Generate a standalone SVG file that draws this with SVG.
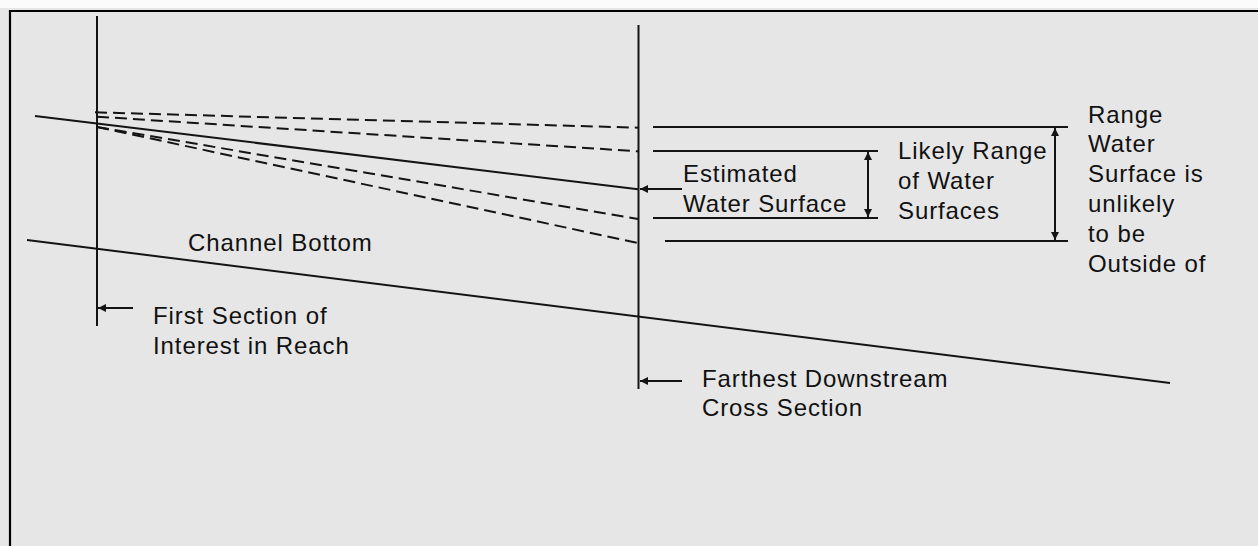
<svg xmlns="http://www.w3.org/2000/svg" width="1258" height="546" viewBox="0 0 1258 546">
<style>
.ln{stroke:#141414;stroke-width:2;fill:none}
.ds{stroke:#141414;stroke-width:2;fill:none;stroke-dasharray:12 6}
.t{font-family:"Liberation Sans",Arial,sans-serif;font-size:24px;letter-spacing:0.9px;fill:#111}
</style>
<defs>
<marker id="ah" viewBox="0 0 10 10" refX="10" refY="5" markerWidth="9" markerHeight="8" markerUnits="userSpaceOnUse" orient="auto-start-reverse">
<path d="M0,0 L10,5 L0,10 z" fill="#141414"/>
</marker>
</defs>
<rect x="0" y="0" width="1258" height="546" fill="#e6e6e6"/>
<rect x="0" y="0" width="1258" height="8" fill="#fbfbfb"/>
<path d="M10,546 V11 H1258" stroke="#000" stroke-width="2.2" fill="none"/>
<g id="sections">
<line class="ln" x1="97" y1="16" x2="97" y2="326"/>
<line class="ln" x1="638.5" y1="25" x2="638.5" y2="389"/>
</g>
<g id="channel-bottom">
<line class="ln" x1="27" y1="240" x2="1170" y2="383"/>
<text class="t" x="188" y="251">Channel Bottom</text>
</g>
<g id="water-surfaces">
<line class="ds" x1="95" y1="112.3" x2="638" y2="127.7"/>
<line class="ds" x1="97" y1="116.7" x2="638" y2="151.3"/>
<line class="ln" x1="35" y1="116" x2="638" y2="189.3"/>
<line class="ds" x1="97" y1="127" x2="638" y2="219"/>
<line class="ds" x1="97" y1="127" x2="638" y2="243"/>
</g>
<g id="range-lines">
<line class="ln" x1="653" y1="127" x2="1068" y2="127"/>
<line class="ln" x1="653" y1="151" x2="878" y2="151"/>
<line class="ln" x1="653" y1="218" x2="878" y2="218"/>
<line class="ln" x1="665" y1="241" x2="1068" y2="241"/>
</g>
<g id="connectors">
<line class="ln" x1="682" y1="189" x2="640" y2="189" marker-end="url(#ah)"/>
<line class="ln" x1="868" y1="152" x2="868" y2="217" marker-start="url(#ah)" marker-end="url(#ah)"/>
<line class="ln" x1="1055" y1="128" x2="1055" y2="240" marker-start="url(#ah)" marker-end="url(#ah)"/>
<line class="ln" x1="133" y1="308" x2="98" y2="308" marker-end="url(#ah)"/>
<line class="ln" x1="682" y1="381" x2="640" y2="381" marker-end="url(#ah)"/>
</g>
<g id="estimated-label">
<text class="t" x="683" y="182">Estimated</text>
<text class="t" x="683" y="211.5">Water Surface</text>
</g>
<g id="likely-label">
<text class="t" x="898" y="159.3">Likely Range</text>
<text class="t" x="898" y="189">of Water</text>
<text class="t" x="898" y="218.5">Surfaces</text>
</g>
<g id="unlikely-label">
<text class="t" x="1088" y="122.5">Range</text>
<text class="t" x="1088" y="152.3">Water</text>
<text class="t" x="1088" y="182.2">Surface is</text>
<text class="t" x="1088" y="212">unlikely</text>
<text class="t" x="1088" y="241.8">to be</text>
<text class="t" x="1088" y="271.6">Outside of</text>
</g>
<g id="first-section-label">
<text class="t" x="153" y="324">First Section of</text>
<text class="t" x="153" y="353.5">Interest in Reach</text>
</g>
<g id="farthest-label">
<text class="t" x="702" y="386.7">Farthest Downstream</text>
<text class="t" x="702" y="416">Cross Section</text>
</g>
</svg>
